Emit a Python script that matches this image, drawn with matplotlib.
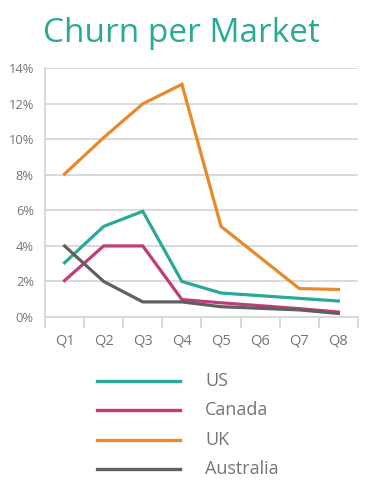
# Churn per Market - quarterly churn rate per country
import numpy as np
import matplotlib.pyplot as plt

quarters = ["Q1", "Q2", "Q3", "Q4", "Q5", "Q6", "Q7", "Q8"]
# the source chart has no point at Q6, lines run straight from Q5 to Q7
point_quarters = ["Q1", "Q2", "Q3", "Q4", "Q5", "Q7", "Q8"]
us = [3.05, 5.1, 5.95, 2.0, 1.35, 1.05, 0.9]
canada = [2.05, 4.0, 4.0, 0.98, 0.8, 0.47, 0.28]
uk = [8.05, 10.1, 12.0, 13.1, 5.1, 1.6, 1.55]
australia = [4.0, 2.0, 0.85, 0.85, 0.58, 0.4, 0.2]
series_names = ["US", "Canada", "UK", "Australia"]
yticks = [0, 2, 4, 6, 8, 10, 12, 14]

colors = ["#2aa898", "#c23b79", "#e8892c", "#606060"]
grey = "#757575"
plt.rcParams['font.family'] = ['Open Sans', 'DejaVu Sans']
plt.rcParams['font.weight'] = 'medium'

fig = plt.figure(figsize=(3.78, 4.95), dpi=100)
ax = fig.add_axes([0.119, 0.3596, 0.828, 0.5024])

pos = {q: i + 0.5 for i, q in enumerate(quarters)}
xs = [pos[q] for q in point_quarters]
for vals, c in zip([us, canada, uk, australia], colors):
    ax.plot(xs, vals, color=c, lw=2.3, solid_joinstyle='miter', zorder=3)

ax.set_xlim(0, len(quarters))
ax.set_ylim(0, 14)
ax.set_yticks(yticks)
ax.set_yticklabels([f"{v}%" for v in yticks])
ax.yaxis.grid(True, color="#d9d9d9", lw=1.4)
ax.set_axisbelow(True)
ax.tick_params(axis='y', length=0, pad=8, labelsize=9.3, labelcolor=grey)

ax.set_xticks(np.arange(len(quarters) + 1))
ax.set_xticklabels([])
ax.set_xticks([pos[q] for q in quarters], minor=True)
ax.set_xticklabels(quarters, minor=True)
ax.tick_params(axis='x', which='major', length=8, width=1.4, color="#d9d9d9")
ax.tick_params(axis='x', which='minor', length=0, pad=12, labelsize=10.5, labelcolor=grey)

for s in ["top", "right"]:
    ax.spines[s].set_visible(False)
ax.spines["left"].set_color("#d9d9d9")
ax.spines["left"].set_linewidth(1.4)
ax.spines["bottom"].set_color("#d9d9d9")
ax.spines["bottom"].set_linewidth(1.4)

fig.text(0.479, 1 - 42 / 495, "Churn per Market", color="#2aa898", fontsize=24,
         ha='center', va='baseline')

# legend drawn by hand below the chart
for i, (name, c) in enumerate(zip(series_names, colors)):
    y = 1 - (381 + i * 29.3) / 495
    fig.add_artist(plt.Line2D([97 / 378, 180 / 378], [y, y], color=c, lw=2.4))
    fig.text(205 / 378, y, name, color=grey, fontsize=13, va='center', ha='left')

plt.savefig("out.png", dpi=100)
